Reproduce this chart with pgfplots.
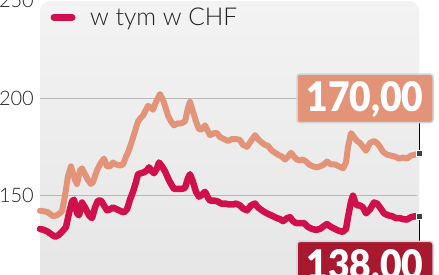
\documentclass[border=0pt]{standalone}
\usepackage{pgfplots}
\pgfplotsset{compat=1.18}
\usepackage{fontspec}
\setmainfont{Lato}[UprightFont=* Light, BoldFont=* Black]
\definecolor{salmon}{HTML}{E39478}
\definecolor{crim}{HTML}{D0104A}
\definecolor{darkred}{HTML}{A8182F}
\definecolor{panelTop}{HTML}{F3F3F3}
\definecolor{panelBot}{HTML}{E5E5E5}
\definecolor{gridc}{HTML}{B8B8B8}
\definecolor{boxborder}{HTML}{D4D4D4}
\definecolor{txt}{HTML}{222222}
\begin{document}
\begin{tikzpicture}[x=1pt,y=1pt]
% panel
\shade[top color=panelTop, bottom color=panelBot, rounded corners=10pt] (40,-30) rectangle (419.3,273);
% grid lines
\draw[gridc, line width=1pt] (40,176) -- (417,176);
\draw[gridc, line width=1pt] (40,78.3) -- (417,78.3);
% y labels
\node[anchor=east, inner sep=0pt, text=txt, font=\fontsize{20}{24}\selectfont] at (34,176) {200};
\node[anchor=east, inner sep=0pt, text=txt, font=\fontsize{20}{24}\selectfont] at (34,78.3) {150};
\node[anchor=east, inner sep=0pt, text=txt, font=\fontsize{20}{24}\selectfont] at (34,273.7) {250};
% legend
\draw[crim, line width=7pt, line cap=round] (54,256.7) -- (72,256.7);
\node[anchor=base west, inner sep=0pt, text=txt, font=\fontsize{26}{30}\selectfont] at (90,248) {\resizebox{147pt}{!}{w tym w CHF}};
\begin{axis}[
  at={(0,0)}, anchor=south west,
  width=439pt, height=274pt, scale only axis,
  xmin=0, xmax=439, ymin=109.93, ymax=250.15,
  hide axis, clip=false,
]
\addplot[salmon, line width=6pt, line join=round, line cap=round] coordinates {
(40,142.3) (44,142) (48,141.5) (53,139.5) (57,140) (62,142) (65,150) (68,160) (71,165) (75,158)
(77,156) (80,163) (82,164) (85,161) (88,158) (91,156) (93,157) (97,163) (101,167) (104,169)
(107,165) (110,165) (113,167) (116,166) (120,165.5) (123,166) (126,170) (128,172) (132,178) (135,183)
(138,188) (141,190) (143,191) (146,194) (148,196) (151,195) (153,194) (156,198) (160,202) (163,199)
(165,196) (168,191) (171,188) (174,186) (178,187) (181,187) (185,188) (188,195) (190,198) (193,193)
(196,188) (199,184) (202,184) (205,186) (208,183) (210,181) (214,182) (217,182) (220,180) (224,179)
(228,178) (232,179) (236,179) (240,178.5) (243,176) (247,175) (251,178) (255,181) (258,179) (261,177.5)
(265,176) (268,175.5) (272,173) (275,172) (278,171) (282,170) (285,168.5) (288,170) (291,172) (294,170)
(297,168.5) (300,168) (303,168.5) (306,167.5) (309,166) (313,165) (317,164.5) (320,165) (324,166) (327,167.5)
(331,166) (335,166) (339,165) (343,164) (346,167) (348,175) (351,182) (354,180) (357,178) (360,177)
(363,175) (366,173) (370,177) (374,178) (377,177) (380,175) (383,172.5) (387,171) (391,170.5) (395,170)
(399,169) (403,169.5) (407,169) (411,170.5) (415,171) (419.3,171.5)
};
\addplot[crim, line width=6.5pt, line join=round, line cap=round] coordinates {
(40,133) (44,132.5) (48,131.5) (52,130) (55,129) (59,130) (62,131.5) (66,134) (69,141) (72,147)
(74,148) (77,141) (79,140) (82,146.5) (85,144) (89,140) (92,138.5) (95,144) (98,147.5) (101,147.5)
(104,145) (107,142.5) (110,143) (113,144) (117,143) (121,142) (124,141.5) (127,143) (130,148) (133,152)
(136,157) (138,161) (141,161.5) (144,162) (147,163) (149,164.5) (152,162.5) (154,161.5) (157,164) (159,167)
(162,165) (165,162.5) (168,159) (171,156) (174,153.5) (178,153.5) (182,153.5) (185,154) (188,159) (190,161)
(193,157) (196,152) (199,149.5) (202,150.5) (205,152) (208,149) (210,147.5) (214,147.5) (218,147) (221,146)
(225,146) (229,145.5) (233,145.5) (236,146) (240,145) (243,143.5) (247,142.5) (251,145) (255,146) (258,144)
(262,142.5) (265,141.5) (269,140.5) (273,139.5) (277,138.5) (280,138) (283,137) (287,138.5) (290,139) (293,137)
(296,136) (300,136) (304,136) (308,134) (312,133) (316,132.5) (320,133) (324,134.5) (327,135.5) (331,134)
(335,133) (339,132) (343,131.5) (346,133) (348,139) (351,147) (353,150) (355,147) (357,145) (360,145)
(363,144) (366,141) (370,143) (374,146.5) (377,146) (380,144) (384,141) (388,140) (392,139.5) (396,138.5)
(400,138.5) (403,138) (407,137.8) (411,139) (415,139.5) (419.3,139.3)
};
% connectors
\addplot[black, line width=0.9pt] coordinates {(419.3,171.5) (419.3,187.3)};
\addplot[black, line width=0.9pt] coordinates {(419.3,139.3) (419.3,126.7)};
% end markers
\addplot[only marks, mark=square*, mark size=3pt, mark options={fill=black!75, draw=white, line width=1pt}] coordinates {(419.3,171.5) (419.3,139.3)};
\end{axis}
% value boxes
\draw[boxborder, fill=salmon, line width=1.5pt, rounded corners=3pt] (297,151.3) rectangle (433,200);
\node[anchor=base, inner sep=0pt, text=white] at (365,162) {\resizebox{117pt}{30pt}{\bfseries 170,00}};
\draw[boxborder, fill=darkred, line width=1.5pt, rounded corners=3pt] (297,-20) rectangle (433,32.7);
\node[anchor=base, inner sep=0pt, text=white] at (365,-5) {\resizebox{117pt}{30pt}{\bfseries 138,00}};
\pgfresetboundingbox
\path[use as bounding box] (0,0) rectangle (439,274);
\end{tikzpicture}
\end{document}
